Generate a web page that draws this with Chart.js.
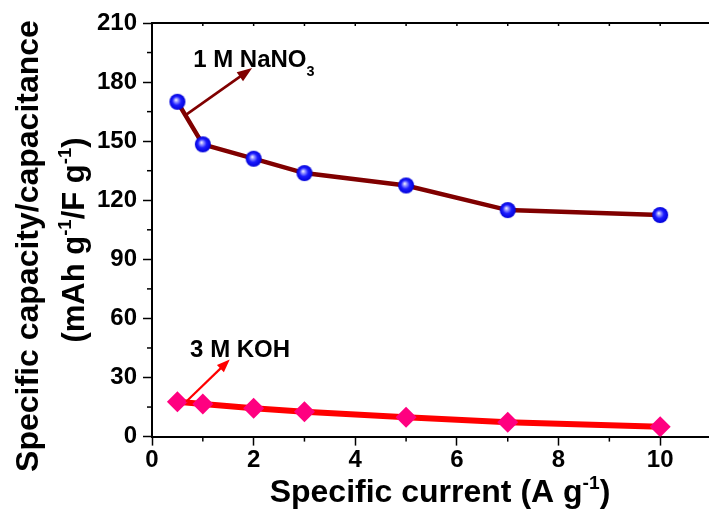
<!DOCTYPE html>
<html>
<head>
<meta charset="utf-8">
<script src="https://cdn.jsdelivr.net/npm/chart.js@4.4.1/dist/chart.umd.min.js"></script>
<style>
    html, body { margin: 0; padding: 0; background: #fff; width: 709px; height: 512px; overflow: hidden; }
    canvas { display: block; }
</style>
</head>
<body>
<canvas id="grafico" width="712" height="512" style="width:712px;height:512px"></canvas>
<script>
// datos
const corrientes = [0.5, 1, 2, 3, 5, 7, 10];
const capNaNO3 = [170, 148.4, 141.1, 133.8, 127.5, 115, 112.5];
const capKOH = [17.7, 16.5, 14.4, 12.6, 9.8, 7.3, 5.0];

const ticksX = [0, 2, 4, 6, 8, 10];
const ticksXMenores = [1, 3, 5, 7, 9, 11];
const ticksXArriba = [0, 1, 2, 3, 4, 5, 6, 7, 8, 9, 10, 11];
const ticksY = [0, 30, 60, 90, 120, 150, 180, 210];
const ticksYMenores = [15, 45, 75, 105, 135, 165, 195];

// flechas y etiquetas (en unidades de los ejes)
const flechaNaNO3 = [[0.66, 163.2], [1.97, 187.1]];
const flechaKOH = [[0.67, 17.7], [1.53, 39.1]];
const etiquetaNaNO3 = [0.81, 187.8];
const etiquetaKOH = [0.75, 40.6];

const FUENTE = '"Liberation Sans", Arial, sans-serif';

// esfera azul para los puntos
function crearEsfera(r) {
    const c = document.createElement('canvas');
    c.width = c.height = r * 2 + 2;
    const g = c.getContext('2d');
    const cx = r + 1, cy = r + 1;
    const grad = g.createRadialGradient(cx - 1.5, cy - 2, 0, cx, cy, r);
    grad.addColorStop(0, '#ffffff');
    grad.addColorStop(0.22, '#9a9aff');
    grad.addColorStop(0.55, '#1c1cff');
    grad.addColorStop(1, '#0000d8');
    g.fillStyle = grad;
    g.beginPath();
    g.arc(cx, cy, r, 0, Math.PI * 2);
    g.fill();
    return c;
}

function anchoRico(ctx, partes, size) {
    let ancho = 0;
    partes.forEach(p => {
        const s = p.sup || p.sub ? size * 0.6 : size;
        ctx.font = `bold ${s}px ${FUENTE}`;
        ancho += ctx.measureText(p.t).width;
    });
    return ancho;
}

function dibujarRico(ctx, partes, x, y, size, centrado) {
    ctx.textBaseline = 'alphabetic';
    ctx.textAlign = 'left';
    let px = centrado ? x - anchoRico(ctx, partes, size) / 2 : x;
    partes.forEach(p => {
        const s = p.sup || p.sub ? size * 0.6 : size;
        ctx.font = `bold ${s}px ${FUENTE}`;
        let dy = 0;
        if (p.sup) dy = -size * 0.42;
        if (p.sub) dy = size * 0.4;
        ctx.fillText(p.t, px, y + dy);
        px += ctx.measureText(p.t).width;
    });
}

function flecha(ctx, x1, y1, x2, y2, color, ancho, largo, abre) {
    const ang = Math.atan2(y2 - y1, x2 - x1);
    ctx.strokeStyle = color;
    ctx.fillStyle = color;
    ctx.lineWidth = ancho;
    ctx.beginPath();
    ctx.moveTo(x1, y1);
    ctx.lineTo(x2 - Math.cos(ang) * largo * 0.7, y2 - Math.sin(ang) * largo * 0.7);
    ctx.stroke();
    ctx.beginPath();
    ctx.moveTo(x2, y2);
    ctx.lineTo(x2 - largo * Math.cos(ang) + abre * Math.sin(ang), y2 - largo * Math.sin(ang) - abre * Math.cos(ang));
    ctx.lineTo(x2 - largo * Math.cos(ang) - abre * Math.sin(ang), y2 - largo * Math.sin(ang) + abre * Math.cos(ang));
    ctx.closePath();
    ctx.fill();
}

const extras = {
    id: 'extras',
    afterLayout(chart) {
        // el marco sigue mas alla del borde derecho de la imagen
        const a = chart.chartArea;
        a.right = chart.width - 1;
        a.width = a.right - a.left;
        const sx = chart.scales.x;
        sx.right = a.right;
        sx.width = a.right - sx.left;
        sx.configure();
    },
    afterDraw(chart) {
        const ctx = chart.ctx;
        const sx = chart.scales.x, sy = chart.scales.y;
        const area = chart.chartArea;
        ctx.save();

        // borde superior con marcas
        ctx.strokeStyle = '#000';
        ctx.lineWidth = 2;
        ctx.beginPath();
        ctx.moveTo(area.left - 1, area.top);
        ctx.lineTo(area.right + 5, area.top);
        ctx.stroke();
        ctx.lineWidth = 1.5;
        ticksXArriba.forEach(v => {
            const px = sx.getPixelForValue(v);
            ctx.beginPath();
            ctx.moveTo(px, area.top);
            ctx.lineTo(px, area.top + 3);
            ctx.stroke();
        });

        // marcas menores
        ticksXMenores.forEach(v => {
            const px = sx.getPixelForValue(v);
            ctx.beginPath();
            ctx.moveTo(px, area.bottom);
            ctx.lineTo(px, area.bottom + 5);
            ctx.stroke();
        });
        ticksYMenores.forEach(v => {
            const py = sy.getPixelForValue(v);
            ctx.beginPath();
            ctx.moveTo(area.left, py);
            ctx.lineTo(area.left - 5, py);
            ctx.stroke();
        });

        // flechas
        flecha(ctx,
            sx.getPixelForValue(flechaNaNO3[0][0]), sy.getPixelForValue(flechaNaNO3[0][1]),
            sx.getPixelForValue(flechaNaNO3[1][0]), sy.getPixelForValue(flechaNaNO3[1][1]),
            '#800000', 2.6, 15, 5.5);
        flecha(ctx,
            sx.getPixelForValue(flechaKOH[0][0]), sy.getPixelForValue(flechaKOH[0][1]),
            sx.getPixelForValue(flechaKOH[1][0]), sy.getPixelForValue(flechaKOH[1][1]),
            '#ff0000', 2.2, 13, 5);

        // etiquetas
        ctx.fillStyle = '#000';
        dibujarRico(ctx, [{ t: '1 M NaNO' }, { t: '3', sub: true }],
            sx.getPixelForValue(etiquetaNaNO3[0]), sy.getPixelForValue(etiquetaNaNO3[1]), 24, false);
        dibujarRico(ctx, [{ t: '3 M KOH' }],
            sx.getPixelForValue(etiquetaKOH[0]), sy.getPixelForValue(etiquetaKOH[1]), 24, false);

        // titulo eje x
        dibujarRico(ctx, [{ t: 'Specific current (A g' }, { t: '-1', sup: true }, { t: ')' }],
            area.left + 288, 502, 32, true);

        // titulo eje y (dos lineas)
        ctx.save();
        ctx.translate(38, 246);
        ctx.rotate(-Math.PI / 2);
        dibujarRico(ctx, [{ t: 'Specific capacity/capacitance' }], 0, 0, 32, true);
        ctx.restore();
        ctx.save();
        ctx.translate(84, 240);
        ctx.rotate(-Math.PI / 2);
        dibujarRico(ctx, [{ t: '(mAh g' }, { t: '-1', sup: true }, { t: '/F g' }, { t: '-1', sup: true }, { t: ')' }],
            0, 0, 31, true);
        ctx.restore();

        ctx.restore();
    }
};

const esfera = crearEsfera(8);

new Chart(document.getElementById('grafico'), {
    type: 'line',
    data: {
        datasets: [
            {
                label: '1 M NaNO3',
                data: corrientes.map((c, i) => ({ x: c, y: capNaNO3[i] })),
                borderColor: '#800000',
                borderWidth: 4.5,
                pointStyle: esfera,
                pointRadius: 8,
                tension: 0
            },
            {
                label: '3 M KOH',
                data: corrientes.map((c, i) => ({ x: c, y: capKOH[i] })),
                borderColor: '#ff0000',
                borderWidth: 6,
                pointStyle: 'rectRot',
                pointRadius: 10.5,
                pointBackgroundColor: '#ff0080',
                pointBorderColor: '#ff0080',
                pointBorderWidth: 0,
                tension: 0
            }
        ]
    },
    options: {
        responsive: false,
        animation: false,
        layout: { padding: { top: 23, right: 1, left: 0, bottom: 0 } },
        plugins: {
            legend: { display: false },
            tooltip: { enabled: false }
        },
        scales: {
            x: {
                type: 'linear',
                min: 0,
                max: 11,
                afterBuildTicks: s => { s.ticks = ticksX.map(v => ({ value: v })); },
                afterFit: s => { s.height = 512 - 436.6; s.paddingLeft = 0; s.paddingRight = 0; },
                grid: { drawOnChartArea: false, drawTicks: true, tickLength: 9, tickColor: '#000', tickWidth: 1.5, color: '#000' },
                border: { display: true, color: '#000', width: 2 },
                ticks: {
                    color: '#000',
                    padding: 0,
                    maxRotation: 0,
                    font: { family: FUENTE, size: 24, weight: 'bold', lineHeight: 1.2 }
                }
            },
            y: {
                min: 0,
                max: 210,
                afterBuildTicks: s => { s.ticks = ticksY.map(v => ({ value: v })); },
                afterFit: s => { s.width = 152; s.paddingTop = 0; s.paddingBottom = 0; },
                grid: { drawOnChartArea: false, drawTicks: true, tickLength: 9, tickColor: '#000', tickWidth: 1.5, color: '#000' },
                border: { display: true, color: '#000', width: 2 },
                ticks: {
                    color: '#000',
                    padding: 6,
                    font: { family: FUENTE, size: 24, weight: 'bold' }
                }
            }
        }
    },
    plugins: [extras]
});
</script>
</body>
</html>
